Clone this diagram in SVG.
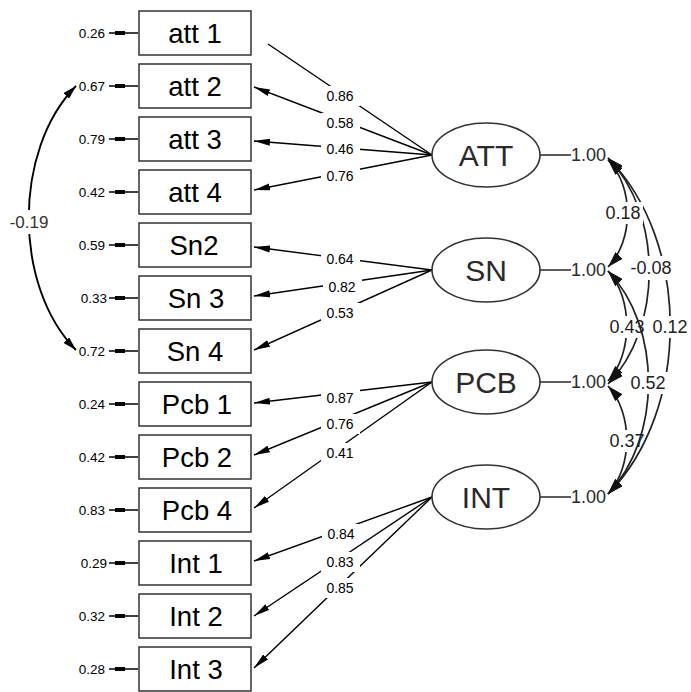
<svg xmlns="http://www.w3.org/2000/svg" width="691" height="692" viewBox="0 0 691 692">
<defs>
<style>
.box{fill:#fff;stroke:#333;stroke-width:1.5}
.bt{font-family:"Liberation Sans",Arial,sans-serif;font-size:27.5px;fill:#000;text-anchor:middle}
.lat{fill:#fff;stroke:#333;stroke-width:1.6}
.lt{font-family:"Liberation Sans",Arial,sans-serif;font-size:30px;fill:#2a2a2a;text-anchor:middle}
.rl{font-family:"Liberation Sans",Arial,sans-serif;font-size:13.5px;fill:#000;text-anchor:end}
.ll{font-family:"Liberation Sans",Arial,sans-serif;font-size:14px;fill:#000;text-anchor:middle}
.cl{font-family:"Liberation Sans",Arial,sans-serif;font-size:18px;fill:#222;text-anchor:middle}
.vl{font-family:"Liberation Sans",Arial,sans-serif;font-size:18px;fill:#2a2a2a}
.load{stroke:#000;stroke-width:1.4;fill:none}
.res{stroke:#000;stroke-width:1.5}
.cov{stroke:#222;stroke-width:1.7;fill:none;marker-start:url(#ch);marker-end:url(#ch)}
.bg{fill:#fff}
</style>
<marker id="ah" markerUnits="userSpaceOnUse" markerWidth="16" markerHeight="8" refX="16" refY="4" orient="auto" viewBox="0 0 16 8"><path d="M0,0.5 L16,4 L0,7.5 z" fill="#000"/></marker>
<marker id="ch" markerUnits="userSpaceOnUse" markerWidth="16" markerHeight="10" refX="16" refY="5" orient="auto-start-reverse" viewBox="0 0 16 10"><path d="M0,0 L16,5 L0,10 z" fill="#111"/></marker>
<marker id="lh" markerUnits="userSpaceOnUse" markerWidth="14" markerHeight="8" refX="14" refY="4" orient="auto-start-reverse" viewBox="0 0 14 8"><path d="M0,0 L14,4 L0,8 z" fill="#000"/></marker>
</defs>

<g id="connectors">
<line class="load" x1="432" y1="155" x2="268" y2="44"/>
<line class="load" x1="432" y1="155" x2="254" y2="87" marker-end="url(#ah)"/>
<line class="load" x1="432" y1="155" x2="254" y2="141" marker-end="url(#ah)"/>
<line class="load" x1="432" y1="155" x2="254" y2="190" marker-end="url(#ah)"/>
<line class="load" x1="432" y1="270" x2="254" y2="247" marker-end="url(#ah)"/>
<line class="load" x1="432" y1="270" x2="254" y2="296" marker-end="url(#ah)"/>
<line class="load" x1="432" y1="270" x2="254" y2="350" marker-end="url(#ah)"/>
<line class="load" x1="432" y1="382" x2="254" y2="403" marker-end="url(#ah)"/>
<line class="load" x1="432" y1="382" x2="254" y2="455" marker-end="url(#ah)"/>
<line class="load" x1="432" y1="382" x2="254" y2="508" marker-end="url(#ah)"/>
<line class="load" x1="432" y1="497" x2="254" y2="561" marker-end="url(#ah)"/>
<line class="load" x1="432" y1="497" x2="254" y2="616" marker-end="url(#ah)"/>
<line class="load" x1="432" y1="497" x2="254" y2="668" marker-end="url(#ah)"/>
<rect class="bg" x="321" y="86" width="39" height="20"/><text class="ll" x="340" y="101">0.86</text>
<rect class="bg" x="321" y="113" width="39" height="20"/><text class="ll" x="340" y="128">0.58</text>
<rect class="bg" x="321" y="139" width="39" height="20"/><text class="ll" x="340" y="154">0.46</text>
<rect class="bg" x="321" y="166" width="39" height="20"/><text class="ll" x="340" y="181">0.76</text>
<rect class="bg" x="321" y="249" width="39" height="20"/><text class="ll" x="340" y="264">0.64</text>
<rect class="bg" x="323" y="277" width="39" height="20"/><text class="ll" x="342" y="292">0.82</text>
<rect class="bg" x="321" y="303" width="39" height="20"/><text class="ll" x="340" y="318">0.53</text>
<rect class="bg" x="321" y="388" width="39" height="20"/><text class="ll" x="340" y="403">0.87</text>
<rect class="bg" x="321" y="414" width="39" height="20"/><text class="ll" x="340" y="429">0.76</text>
<rect class="bg" x="321" y="443" width="39" height="20"/><text class="ll" x="340" y="458">0.41</text>
<rect class="bg" x="322" y="524" width="39" height="20"/><text class="ll" x="341" y="539">0.84</text>
<rect class="bg" x="321" y="552" width="39" height="20"/><text class="ll" x="340" y="567">0.83</text>
<rect class="bg" x="321" y="578" width="39" height="20"/><text class="ll" x="340" y="593">0.85</text>

<g id="residuals">
<line class="res" x1="109" y1="33" x2="138" y2="33"/><rect x="115" y="31" width="10" height="4"/>
<line class="res" x1="109" y1="86" x2="138" y2="86"/><rect x="115" y="84" width="10" height="4"/>
<line class="res" x1="109" y1="139" x2="138" y2="139"/><rect x="115" y="137" width="10" height="4"/>
<line class="res" x1="109" y1="192" x2="138" y2="192"/><rect x="115" y="190" width="10" height="4"/>
<line class="res" x1="109" y1="245" x2="138" y2="245"/><rect x="115" y="243" width="10" height="4"/>
<line class="res" x1="109" y1="298" x2="138" y2="298"/><rect x="115" y="296" width="10" height="4"/>
<line class="res" x1="109" y1="351" x2="138" y2="351"/><rect x="115" y="349" width="10" height="4"/>
<line class="res" x1="109" y1="404" x2="138" y2="404"/><rect x="115" y="402" width="10" height="4"/>
<line class="res" x1="109" y1="457" x2="138" y2="457"/><rect x="115" y="455" width="10" height="4"/>
<line class="res" x1="109" y1="510" x2="138" y2="510"/><rect x="115" y="508" width="10" height="4"/>
<line class="res" x1="109" y1="563" x2="138" y2="563"/><rect x="115" y="561" width="10" height="4"/>
<line class="res" x1="109" y1="616" x2="138" y2="616"/><rect x="115" y="614" width="10" height="4"/>
<line class="res" x1="109" y1="669" x2="138" y2="669"/><rect x="115" y="667" width="10" height="4"/>
<text class="rl" x="105" y="38">0.26</text>
<text class="rl" x="105" y="91">0.67</text>
<text class="rl" x="105" y="144">0.79</text>
<text class="rl" x="105" y="197">0.42</text>
<text class="rl" x="105" y="250">0.59</text>
<text class="rl" x="107" y="303">0.33</text>
<text class="rl" x="105" y="356">0.72</text>
<text class="rl" x="105" y="409">0.24</text>
<text class="rl" x="105" y="462">0.42</text>
<text class="rl" x="105" y="515">0.83</text>
<text class="rl" x="107" y="568">0.29</text>
<text class="rl" x="105" y="621">0.32</text>
<text class="rl" x="105" y="674">0.28</text>
</g>

<path d="M76,86 C13,150 13,286 76,350" fill="none" stroke="#000" stroke-width="1.9" marker-start="url(#lh)" marker-end="url(#lh)"/>
<rect class="bg" x="7" y="210" width="44" height="24"/>
<text x="29" y="228" font-family="Liberation Sans, Arial, sans-serif" font-size="17" fill="#333" text-anchor="middle">-0.19</text>

<line x1="540" y1="155" x2="571" y2="155" stroke="#333" stroke-width="1.6"/>
<line x1="540" y1="270" x2="571" y2="270" stroke="#333" stroke-width="1.6"/>
<line x1="540" y1="382" x2="571" y2="382" stroke="#333" stroke-width="1.6"/>
<line x1="540" y1="497" x2="571" y2="497" stroke="#333" stroke-width="1.6"/>
<text class="vl" x="571" y="161">1.00</text>
<text class="vl" x="571" y="276">1.00</text>
<text class="vl" x="571" y="388">1.00</text>
<text class="vl" x="571" y="503">1.00</text>

<path class="cov" d="M608,386 C633,413 633,467 608,494"/>
<rect class="bg" x="607" y="430" width="40" height="22"/><text class="cl" x="627" y="447">0.37</text>
<path class="cov" d="M608,158 C663,214 663,328 608,384"/>
<path class="cov" d="M608,271 C633,298 633,354 608,381"/>
<rect class="bg" x="607" y="316" width="40" height="22"/><text class="cl" x="627" y="333">0.43</text>
<path class="cov" d="M608,158 C691,242 691,410 608,494" stroke="#000"/>
<path class="cov" d="M608,271 C662,327 662,438 608,494"/>
<rect class="bg" x="628" y="372" width="40" height="22"/><text class="cl" x="648" y="389">0.52</text>
<rect class="bg" x="628" y="256" width="46" height="24"/><text class="cl" x="651" y="274">-0.08</text>
<path class="cov" d="M608,160 C634,187 634,240 608,267"/>
<rect class="bg" x="603" y="202" width="40" height="22"/><text class="cl" x="623" y="219">0.18</text>
<rect class="bg" x="650" y="316" width="40" height="22"/><text class="cl" x="670" y="333">0.12</text>
</g>

<g id="att1"><rect class="box" x="139" y="11" width="112" height="44"/><text class="bt" x="195" y="43">att 1</text></g>
<g id="att2"><rect class="box" x="139" y="64" width="112" height="44"/><text class="bt" x="195" y="96">att 2</text></g>
<g id="att3"><rect class="box" x="139" y="117" width="112" height="44"/><text class="bt" x="195" y="149">att 3</text></g>
<g id="att4"><rect class="box" x="139" y="170" width="112" height="44"/><text class="bt" x="195" y="202">att 4</text></g>
<g id="sn2"><rect class="box" x="139" y="223" width="112" height="44"/><text class="bt" x="194" y="255">Sn2</text></g>
<g id="sn3"><rect class="box" x="139" y="276" width="112" height="44"/><text class="bt" x="196" y="308">Sn 3</text></g>
<g id="sn4"><rect class="box" x="139" y="329" width="112" height="44"/><text class="bt" x="195" y="361">Sn 4</text></g>
<g id="pcb1"><rect class="box" x="139" y="382" width="112" height="44"/><text class="bt" x="197" y="414">Pcb 1</text></g>
<g id="pcb2"><rect class="box" x="139" y="435" width="112" height="44"/><text class="bt" x="197" y="467">Pcb 2</text></g>
<g id="pcb4"><rect class="box" x="139" y="488" width="112" height="44"/><text class="bt" x="197" y="520">Pcb 4</text></g>
<g id="int1"><rect class="box" x="139" y="541" width="112" height="44"/><text class="bt" x="196" y="573">Int 1</text></g>
<g id="int2"><rect class="box" x="139" y="594" width="112" height="44"/><text class="bt" x="196" y="626">Int 2</text></g>
<g id="int3"><rect class="box" x="139" y="647" width="112" height="44"/><text class="bt" x="196" y="679">Int 3</text></g>

<g id="ATT"><ellipse class="lat" cx="486" cy="155" rx="54" ry="32"/><text class="lt" x="486" y="166">ATT</text></g>
<g id="SN"><ellipse class="lat" cx="486" cy="270" rx="54" ry="32"/><text class="lt" x="486" y="281">SN</text></g>
<g id="PCB"><ellipse class="lat" cx="486" cy="382" rx="54" ry="32"/><text class="lt" x="486" y="393">PCB</text></g>
<g id="INT"><ellipse class="lat" cx="486" cy="497" rx="54" ry="32"/><text class="lt" x="486" y="508">INT</text></g>
</svg>
